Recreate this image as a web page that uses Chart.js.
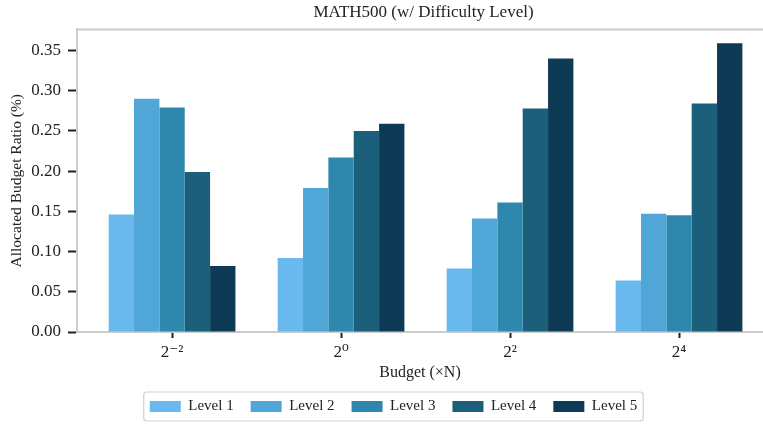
<!DOCTYPE html>
<html>
<head>
<meta charset="utf-8">
<script src="https://cdn.jsdelivr.net/npm/chart.js@4"></script>
<style>
  html, body { margin: 0; padding: 0; background: #fff; overflow: hidden; }
  #wrap { width: 763px; height: 424px; }
</style>
</head>
<body>
<div id="wrap"><canvas id="chart"></canvas></div>
<script>
// Data
const budgets = ['2\u207B\u00B2', '2\u2070', '2\u00B2', '2\u2074'];
const levels = ['Level 1', 'Level 2', 'Level 3', 'Level 4', 'Level 5'];
const level1 = [0.146, 0.092, 0.079, 0.064];
const level2 = [0.290, 0.179, 0.141, 0.147];
const level3 = [0.279, 0.217, 0.161, 0.145];
const level4 = [0.199, 0.250, 0.278, 0.284];
const level5 = [0.082, 0.259, 0.340, 0.359];
const yTicks = [0, 0.05, 0.10, 0.15, 0.20, 0.25, 0.30, 0.35];

const colors = ['#69b9ee', '#50a7d7', '#2e88ad', '#1b5f7a', '#0e3a55'];
const series = [level1, level2, level3, level4, level5];
const serif = "'Liberation Serif', 'DejaVu Serif', serif";

// title sits over the axes, legend a bit right of the canvas middle
const shiftPlugin = {
  id: 'shift',
  afterLayout(chart) {
    const t = chart.titleBlock, lg = chart.legend;
    if (t) { t.left += 42; t.right += 42; }
    if (lg) { lg.left += 12; lg.right += 12; }
  }
};

// Frame on top + box round the legend
const framePlugin = {
  id: 'frame',
  afterDraw(chart) {
    const { ctx, chartArea } = chart;
    ctx.save();
    ctx.strokeStyle = '#cccccc';
    ctx.lineWidth = 2;
    ctx.beginPath();
    ctx.moveTo(chartArea.left - 1, chartArea.top);
    ctx.lineTo(chartArea.right + 2, chartArea.top);
    ctx.stroke();

    const boxes = chart.legend.legendHitBoxes;
    if (boxes && boxes.length) {
      const l = Math.min(...boxes.map(b => b.left)) - 6;
      const r = Math.max(...boxes.map(b => b.left + b.width)) + 6;
      const t = Math.min(...boxes.map(b => b.top)) - 7;
      const btm = Math.max(...boxes.map(b => b.top + b.height)) + 7;
      ctx.lineWidth = 1.2;
      ctx.strokeStyle = '#d0d0d0';
      ctx.beginPath();
      ctx.roundRect(l, t, r - l, btm - t, 3);
      ctx.stroke();
    }
    ctx.restore();
  }
};

const ctx = document.getElementById('chart').getContext('2d');
new Chart(ctx, {
  type: 'bar',
  data: {
    datasets: levels.map((name, i) => ({
      label: name,
      data: series[i].map((v, j) => ({ x: j, y: v })),
      backgroundColor: colors[i],
      borderWidth: 0,
      barPercentage: 1,
      categoryPercentage: 0.75
    }))
  },
  options: {
    responsive: true,
    maintainAspectRatio: false,
    animation: false,
    layout: { padding: 0 },
    plugins: {
      title: {
        display: true,
        text: 'MATH500 (w/ Difficulty Level)',
        color: '#222',
        font: { family: serif, size: 17, weight: 'normal' },
        padding: { top: 2, bottom: 7 }
      },
      legend: {
        position: 'bottom',
        labels: {
          color: '#222',
          font: { family: serif, size: 15 },
          boxWidth: 31,
          boxHeight: 11,
          padding: 17
        }
      },
      tooltip: { enabled: false }
    },
    scales: {
      x: {
        type: 'linear',
        offset: false,
        min: -0.5625,
        max: 3.497,
        afterBuildTicks: s => { s.ticks = budgets.map((_, i) => ({ value: i })); },
        afterFit: s => { s.height = 50; },
        ticks: {
          color: '#222',
          font: { family: serif, size: 17 },
          padding: 4,
          autoSkip: false,
          maxRotation: 0,
          callback: v => budgets[v]
        },
        grid: { offset: false, drawOnChartArea: false, drawTicks: true, tickLength: 6, tickColor: '#222', tickWidth: 2 },
        border: { color: '#cccccc', width: 2 },
        title: {
          display: true,
          text: 'Budget (\u00D7N)',
          color: '#222',
          font: { family: serif, size: 16 },
          padding: { top: 0, bottom: 0 }
        }
      },
      y: {
        min: 0,
        max: 0.3762,
        afterBuildTicks: s => { s.ticks = yTicks.map(v => ({ value: v })); },
        afterFit: s => { s.width = 77; },
        ticks: {
          color: '#222',
          font: { family: serif, size: 17 },
          padding: 7,
          callback: v => v.toFixed(2)
        },
        grid: { drawOnChartArea: false, drawTicks: true, tickLength: 9, tickColor: '#222', tickWidth: 2 },
        border: { color: '#cccccc', width: 2 },
        title: {
          display: true,
          text: 'Allocated Budget Ratio (%)',
          color: '#222',
          font: { family: serif, size: 15.5 },
          padding: { top: 8, bottom: 0 }
        }
      }
    }
  },
  plugins: [shiftPlugin, framePlugin]
});
</script>
</body>
</html>
